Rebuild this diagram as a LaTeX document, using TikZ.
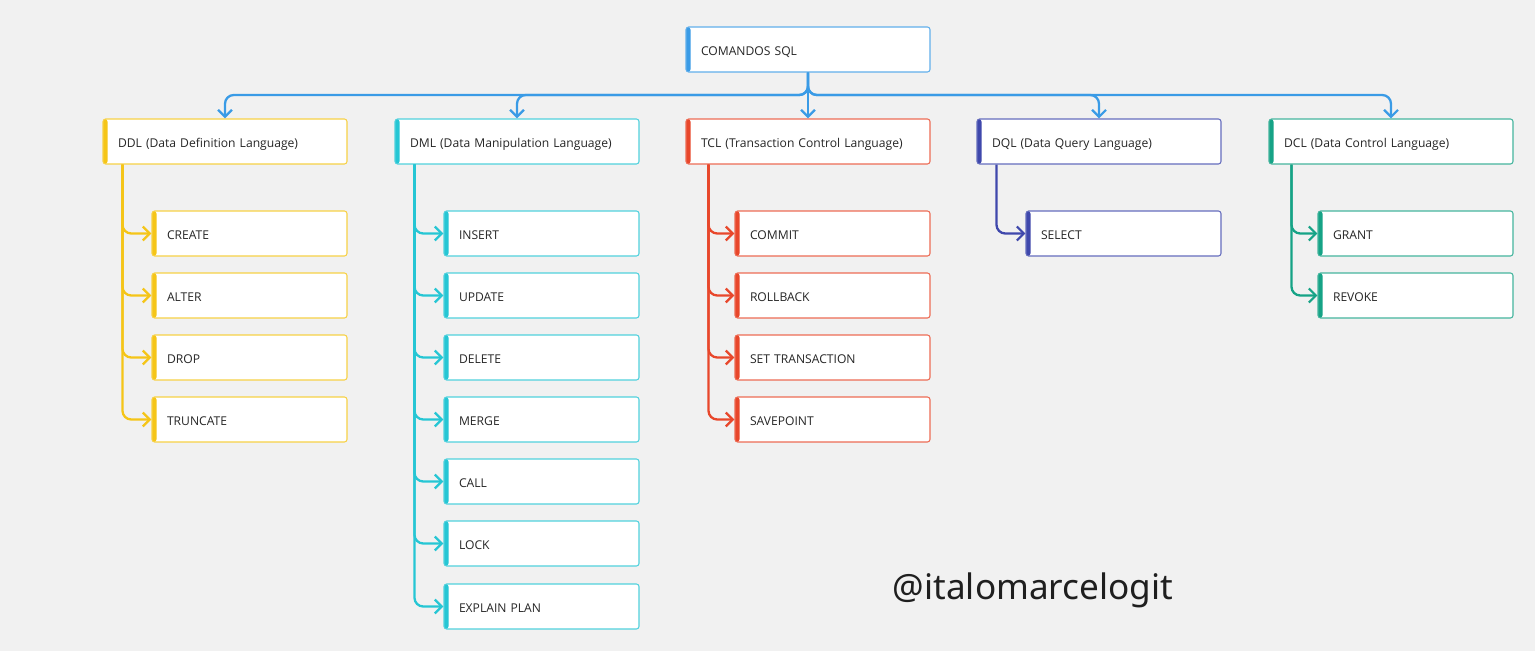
\documentclass[tikz,border=0pt]{standalone}
\usepackage{fontspec}
\setmainfont{Open Sans}
\newfontfamily\markfont{Noto Sans}
\usetikzlibrary{arrows.meta, positioning, calc}

\definecolor{bgcol}{HTML}{F1F1F1}
\definecolor{sqlblue}{HTML}{3A9BE6}
\definecolor{ddlcol}{HTML}{F5C518}
\definecolor{dmlcol}{HTML}{26C6D4}
\definecolor{tclcol}{HTML}{E8472B}
\definecolor{dqlcol}{HTML}{3F48AC}
\definecolor{dclcol}{HTML}{16A386}

\begin{document}
\begin{tikzpicture}[
    every node/.style={font=\fontsize{6.9}{9}\selectfont, text=black!85},
    box/.style={draw=#1!80, fill=white, line width=0.6pt, rounded corners=1.5pt,
        align=left, inner xsep=0.3cm, minimum height=0.9cm,
        text height=1.33ex, text depth=0pt,
        path picture={\fill[#1] (path picture bounding box.south west)
            rectangle ([xshift=0.09cm]path picture bounding box.north west);}},
    groupbox/.style={box=#1, text width=4.28cm},
    itembox/.style={box=#1, text width=3.3cm},
    link/.style={draw=#1, line width=1.3pt, rounded corners=5pt,
        -{Straight Barb[length=1.4mm, width=2.8mm]}}
]

% === CANVAS ===
\fill[bgcol] (0,0) rectangle (30.7,-13.02);
\useasboundingbox (0,0) rectangle (30.7,-13.02);

% === ROOT AND GROUPS ===
\node[groupbox=sqlblue] (sql) at (16.16,-0.99) {COMANDOS SQL};
\node[groupbox=ddlcol] (ddl) at (4.5,-2.83) {DDL (Data Definition Language)};
\node[groupbox=dmlcol] (dml) at (10.34,-2.83) {DML (Data Manipulation Language)};
\node[groupbox=tclcol] (tcl) at (16.16,-2.83) {TCL (Transaction Control Language)};
\node[groupbox=dqlcol] (dql) at (21.98,-2.83) {DQL (Data Query Language)};
\node[groupbox=dclcol] (dcl) at (27.82,-2.83) {DCL (Data Control Language)};

% === DDL ===
\node[itembox=ddlcol] (create) at (4.99,-4.67) {CREATE};
\node[itembox=ddlcol] (alter) at (4.99,-5.91) {ALTER};
\node[itembox=ddlcol] (drop) at (4.99,-7.15) {DROP};
\node[itembox=ddlcol] (truncate) at (4.99,-8.39) {TRUNCATE};

% === DML ===
\node[itembox=dmlcol] (insert) at (10.83,-4.67) {INSERT};
\node[itembox=dmlcol] (update) at (10.83,-5.91) {UPDATE};
\node[itembox=dmlcol] (delete) at (10.83,-7.15) {DELETE};
\node[itembox=dmlcol] (merge) at (10.83,-8.39) {MERGE};
\node[itembox=dmlcol] (call) at (10.83,-9.63) {CALL};
\node[itembox=dmlcol] (lock) at (10.83,-10.87) {LOCK};
\node[itembox=dmlcol] (explain) at (10.83,-12.13) {EXPLAIN PLAN};

% === TCL ===
\node[itembox=tclcol] (commit) at (16.65,-4.67) {COMMIT};
\node[itembox=tclcol] (rollback) at (16.65,-5.91) {ROLLBACK};
\node[itembox=tclcol] (settrans) at (16.65,-7.15) {SET TRANSACTION};
\node[itembox=tclcol] (savepoint) at (16.65,-8.39) {SAVEPOINT};

% === DQL / DCL ===
\node[itembox=dqlcol] (select) at (22.47,-4.67) {SELECT};
\node[itembox=dclcol] (grant) at (28.31,-4.67) {GRANT};
\node[itembox=dclcol] (revoke) at (28.31,-5.91) {REVOKE};

% === BUS FROM ROOT ===
\coordinate (bus) at (16.16,-1.9);
\draw[link=sqlblue] (sql.south) -- (bus) -| (ddl.north);
\draw[link=sqlblue] (sql.south) -- (bus) -| (dml.north);
\draw[link=sqlblue] (sql.south) -- (tcl.north);
\draw[link=sqlblue] (sql.south) -- (bus) -| (dql.north);
\draw[link=sqlblue] (sql.south) -- (bus) -| (dcl.north);

% === TRUNKS ===
\draw[link=ddlcol] ([xshift=0.4cm]ddl.south west) |- (create.west);
\draw[link=ddlcol] ([xshift=0.4cm]ddl.south west) |- (alter.west);
\draw[link=ddlcol] ([xshift=0.4cm]ddl.south west) |- (drop.west);
\draw[link=ddlcol] ([xshift=0.4cm]ddl.south west) |- (truncate.west);

\draw[link=dmlcol] ([xshift=0.4cm]dml.south west) |- (insert.west);
\draw[link=dmlcol] ([xshift=0.4cm]dml.south west) |- (update.west);
\draw[link=dmlcol] ([xshift=0.4cm]dml.south west) |- (delete.west);
\draw[link=dmlcol] ([xshift=0.4cm]dml.south west) |- (merge.west);
\draw[link=dmlcol] ([xshift=0.4cm]dml.south west) |- (call.west);
\draw[link=dmlcol] ([xshift=0.4cm]dml.south west) |- (lock.west);
\draw[link=dmlcol] ([xshift=0.4cm]dml.south west) |- (explain.west);

\draw[link=tclcol] ([xshift=0.46cm]tcl.south west) |- (commit.west);
\draw[link=tclcol] ([xshift=0.46cm]tcl.south west) |- (rollback.west);
\draw[link=tclcol] ([xshift=0.46cm]tcl.south west) |- (settrans.west);
\draw[link=tclcol] ([xshift=0.46cm]tcl.south west) |- (savepoint.west);

\draw[link=dqlcol] ([xshift=0.4cm]dql.south west) |- (select.west);

\draw[link=dclcol] ([xshift=0.46cm]dcl.south west) |- (grant.west);
\draw[link=dclcol] ([xshift=0.46cm]dcl.south west) |- (revoke.west);

% === WATERMARK ===
\node[font=\markfont\fontsize{20}{24}\selectfont, text=black!88] (mark) at (20.66,-11.8) {@italomarcelogit};

\end{tikzpicture}
\end{document}
